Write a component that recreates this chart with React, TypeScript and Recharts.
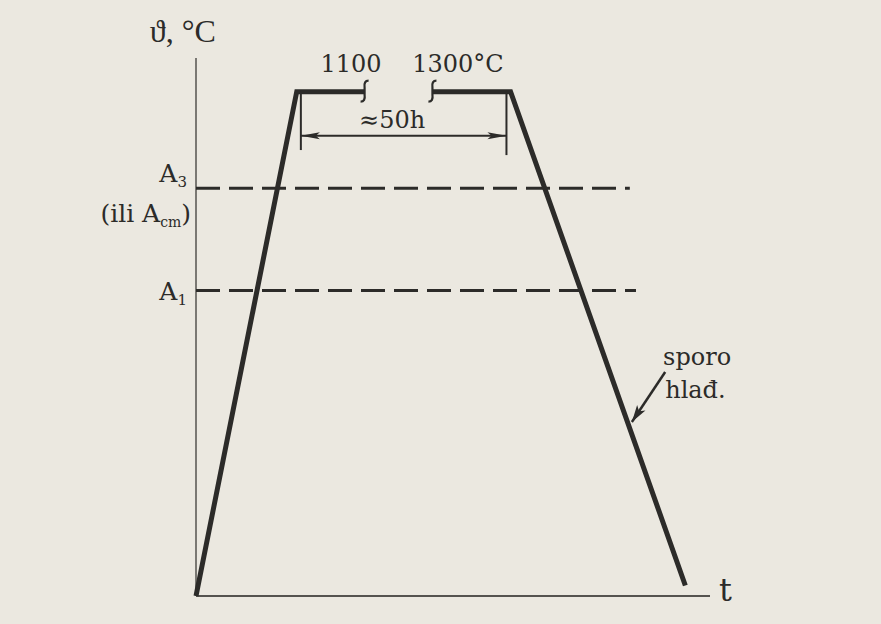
import { ComposedChart, Line, ReferenceDot, ReferenceLine, XAxis, YAxis } from 'recharts';

const INK = '#2c2b29';
const AXIS = '#55534f';
const FONT = '"DejaVu Serif", "Liberation Serif", serif';

// annealing cycle: time (h) vs temperature (°C); null = broken plateau
const cycleTime = [0, 24.5, 41, 49, 57.5, 76.5, 119];
const cycleTemp = [0, 1200, 1200, null, 1200, 1200, 25];
const breakTime = [41, 57.5];

// critical temperatures (dashed)
const criticalTemp = [970, 727];
const criticalEnd = [105.5, 107];

// ≈50 h soak dimension
const soakTime = [25.5, 75.5];
const soakMark = 1095;
const soakTickLow = [1061, 1049];

// "sporo hlađ." pointer
const pointerTime = [114.1, 106];
const pointerTemp = [533, 414];

const cycle = cycleTime.map((x, i) => ({ x, y: cycleTemp[i] }));
const soak = soakTime.map((x) => ({ x, y: soakMark }));
const pointer = pointerTime.map((x, i) => ({ x, y: pointerTemp[i] }));

function arrowDot(onlyEnd: boolean, len: number, hw: number) {
  return (p: any) => {
    const { index, cx, cy, points } = p;
    const last = points.length - 1;
    if (onlyEnd && index !== last) return <g key={index} />;
    const other = index === 0 ? points[1] : points[index - 1];
    const a = (Math.atan2(cy - other.y, cx - other.x) * 180) / Math.PI;
    return (
      <path
        key={index}
        d={`M0,0 L${-len},${-hw} L${-len + 4},0 L${-len},${hw} Z`}
        transform={`translate(${cx},${cy}) rotate(${a})`}
        fill={INK}
      />
    );
  };
}

// small break marks at the ends of the interrupted plateau
const breakDot = (p: any) => {
  const { index, cx, cy, payload } = p;
  if (payload.y == null || !breakTime.includes(payload.x)) return <g key={index} />;
  return (
    <path
      key={index}
      d={`M${cx + 4},${cy - 11} Q${cx - 1},${cy - 11} ${cx},${cy - 4} L${cx},${cy + 3} Q${cx + 1},${cy + 10} ${cx - 4},${cy + 10}`}
      fill="none"
      stroke={INK}
      strokeWidth={2.2}
    />
  );
};

function note(key: string, x: number, y: number, content: any, anchor = 'middle', size = 24, font = FONT) {
  return (
    <ReferenceDot
      key={key}
      x={x}
      y={y}
      r={0}
      ifOverflow="visible"
      fill="none"
      stroke="none"
      label={(p: any) => (
        <text
          x={p.viewBox.x}
          y={p.viewBox.y}
          textAnchor={anchor}
          fontFamily={font}
          fontSize={size}
          fill={INK}
        >
          {content}
        </text>
      )}
    />
  );
}

export default function App() {
  return (
    <div
      style={{
        position: 'absolute',
        left: 0,
        top: 0,
        width: 881,
        height: 624,
        background: '#ebe8e0',
      }}
    >
      <ComposedChart width={881} height={624} margin={{ top: 58, right: 171, bottom: 28, left: 196 }}>
        <XAxis type="number" dataKey="x" domain={[0, 125]} hide />
        <YAxis type="number" domain={[0, 1280]} hide />

        {/* axes */}
        <ReferenceLine y={0} stroke={AXIS} strokeWidth={1.8} />
        <ReferenceLine x={0} stroke={AXIS} strokeWidth={1.5} />

        {criticalTemp.map((t, i) => (
          <ReferenceLine
            key={`crit-${i}`}
            segment={[
              { x: 0, y: t },
              { x: criticalEnd[i], y: t },
            ]}
            stroke={INK}
            strokeWidth={3}
            strokeDasharray="24 9"
          />
        ))}

        {soakTime.map((x, i) => (
          <ReferenceLine
            key={`tick-${i}`}
            segment={[
              { x, y: 1200 },
              { x, y: soakTickLow[i] },
            ]}
            stroke={INK}
            strokeWidth={2}
          />
        ))}

        <Line
          data={soak}
          dataKey="y"
          stroke={INK}
          strokeWidth={2}
          dot={arrowDot(false, 19, 3.5)}
          isAnimationActive={false}
        />
        <Line
          data={pointer}
          dataKey="y"
          stroke={INK}
          strokeWidth={2.5}
          dot={arrowDot(true, 17, 5)}
          isAnimationActive={false}
        />
        <Line
          data={cycle}
          dataKey="y"
          stroke={INK}
          strokeWidth={5}
          strokeLinejoin="miter"
          dot={breakDot}
          connectNulls={false}
          isAnimationActive={false}
        />

        {note('theta', -3.2, 1318, 'ϑ, °C', 'middle', 32, '"Liberation Serif", serif')}
        {note('t1', 37.7, 1247, '1100')}
        {note('t2', 63.7, 1247, '1300°C')}
        {note('soak', 47.7, 1113, '≈50h')}
        {note(
          'a3',
          -2.2,
          985,
          <>
            A<tspan fontSize={15} dy={5}>3</tspan>
          </>,
          'end',
          25,
        )}
        {note(
          'acm',
          -1.2,
          890,
          <>
            (ili A<tspan fontSize={14} dy={5}>cm</tspan>
            <tspan dy={-5}>)</tspan>
          </>,
          'end',
          25,
        )}
        {note(
          'a1',
          -2.2,
          704,
          <>
            A<tspan fontSize={15} dy={5}>1</tspan>
          </>,
          'end',
          25,
        )}
        {note('sporo', 113.6, 550, 'sporo', 'start')}
        {note('hlad', 114.1, 471, 'hlađ.', 'start')}
        {note('t', 127.2, -12, 't', 'start', 32)}
      </ComposedChart>
    </div>
  );
}
